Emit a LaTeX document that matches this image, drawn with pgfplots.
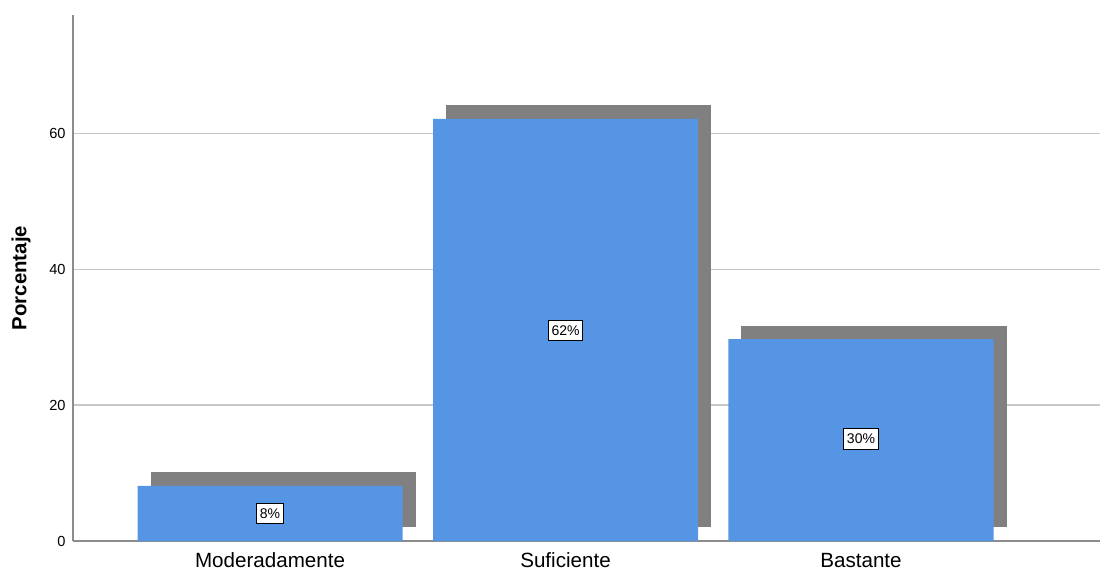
\documentclass[border=0pt]{standalone}
\usepackage{pgfplots}
\pgfplotsset{compat=1.18}
\usepackage{fontspec}
\setmainfont{Liberation Sans}
\definecolor{barblue}{RGB}{85,149,227}
\definecolor{shadowgray}{RGB}{128,128,128}
\definecolor{gridgray}{RGB}{200,200,200}
\definecolor{axisgray}{RGB}{140,140,140}

\begin{document}
\begin{tikzpicture}
\begin{axis}[
  name=ax,
  scale only axis,
  width=513.5pt, height=263pt,
  xmin=-0.667, xmax=2.809,
  ymin=0, ymax=77.4,
  xtick={0,1,2},
  xticklabels={Moderadamente,Suficiente,Bastante},
  ytick={0,20,40,60},
  ymajorgrids,
  grid style={gridgray, line width=0.6pt},
  major tick length=0pt,
  axis x line*=bottom,
  axis y line*=left,
  axis line style={axisgray, line width=0.8pt},
  x tick label style={font=\fontsize{10.3}{12}\selectfont, inner sep=0pt,
    text height=7.6pt, text depth=2pt, anchor=north, yshift=-5.5pt},
  y tick label style={font=\fontsize{7.3}{9}\selectfont, inner sep=0pt,
    anchor=east, xshift=-3.5pt},
  /pgf/number format/assume math mode=true,
  ylabel={\bfseries Porcentaje},
  ylabel style={font=\fontsize{10.2}{12}\selectfont, at={(-26pt,0.5)},
    anchor=center, inner sep=0pt},
  clip=false,
]
% shadows (offset right and up)
\addplot[fill=shadowgray, draw=none] coordinates {(-0.4045,2)(0.4925,2)(0.4925,10.1)(-0.4045,10.1)} -- cycle;
\addplot[fill=shadowgray, draw=none] coordinates {(0.5955,2)(1.4925,2)(1.4925,64.1)(0.5955,64.1)} -- cycle;
\addplot[fill=shadowgray, draw=none] coordinates {(1.5955,2)(2.4925,2)(2.4925,31.7)(1.5955,31.7)} -- cycle;
% bars
\addplot[ybar, bar width=0.897, fill=barblue, draw=none]
  coordinates {(0,8.1)(1,62.1)(2,29.7)};
% value labels
\addplot[draw=none, mark=none, nodes near coords, point meta=explicit symbolic,
  nodes near coords align=center,
  every node near coord/.style={fill=white, draw=black, line width=0.5pt,
    inner xsep=1.5pt, inner ysep=2.6pt, font=\fontsize{7}{8}\selectfont, anchor=center}]
  coordinates {(0,4)[8\%] (1,31)[62\%] (2,15)[30\%]};
\end{axis}
\path ([xshift=-36.5pt,yshift=-15.5pt]ax.south west) rectangle ([xshift=1pt,yshift=7.5pt]ax.north east);
\end{tikzpicture}
\end{document}
